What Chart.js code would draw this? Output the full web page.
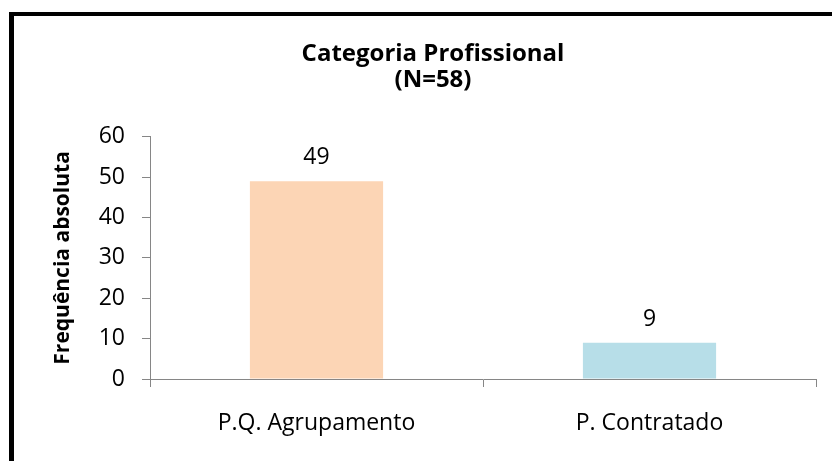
<!DOCTYPE html>
<html>
<head>
<meta charset="utf-8">
<script src="https://cdn.jsdelivr.net/npm/chart.js@4"></script>
<style>
  html, body { margin: 0; padding: 0; background: #fff; }
  #wrap { position: relative; width: 832px; height: 461px; overflow: hidden; }
  #frame { position: absolute; left: 9px; top: 12px; width: 900px; height: 600px;
           border-left: 5px solid #000; border-top: 4px solid #000; box-sizing: border-box; }
  canvas { position: absolute; left: 0; top: 0; }
</style>
</head>
<body>
<div id="wrap">
  <div id="frame"></div>
  <canvas id="c" width="832" height="461"></canvas>
</div>
<script>
const titleLines = ["Categoria Profissional", "(N=58)"];
const yAxisTitle = "Frequência absoluta";
const categories = ["P.Q. Agrupamento", "P. Contratado"];
const values = [49, 9];
const barColors = ["#FCD5B5", "#B7DEE8"];
const yTicks = [0, 10, 20, 30, 40, 50, 60];

const FONT = "'Open Sans', 'Noto Sans', sans-serif";

const valueLabels = {
  id: 'valueLabels',
  afterDatasetsDraw(chart) {
    const ctx = chart.ctx;
    const meta = chart.getDatasetMeta(0);
    ctx.save();
    ctx.font = "23px " + FONT;
    ctx.fillStyle = "#000";
    ctx.textAlign = "center";
    ctx.textBaseline = "alphabetic";
    meta.data.forEach((bar, i) => {
      ctx.fillText(String(values[i]), bar.x, bar.y - 17);
    });
    ctx.restore();
  }
};

new Chart(document.getElementById('c'), {
  type: 'bar',
  data: {
    labels: categories,
    datasets: [{
      data: values,
      backgroundColor: barColors,
      borderWidth: 0,
      barPercentage: 0.4,
      categoryPercentage: 1.0
    }]
  },
  options: {
    responsive: false,
    animation: false,
    layout: { padding: { left: 50, right: 16, top: 0, bottom: 0 } },
    plugins: {
      legend: { display: false },
      tooltip: { enabled: false },
      title: {
        display: true,
        text: titleLines,
        color: '#000',
        font: { family: FONT, size: 24, weight: 'bold', lineHeight: 1.1 },
        padding: { top: 41, bottom: 43 }
      }
    },
    scales: {
      x: {
        grid: { display: true, drawOnChartArea: false, offset: true, tickLength: 8, color: '#868686' },
        border: { color: '#868686', width: 1 },
        ticks: { color: '#000', font: { family: FONT, size: 23 }, padding: 23 },
        afterFit(s) { s.height = 82; }
      },
      y: {
        min: 0, max: 60,
        afterBuildTicks(s) { s.ticks = yTicks.map(v => ({ value: v })); },
        grid: { display: true, drawOnChartArea: false, tickLength: 8, color: '#868686' },
        border: { color: '#868686', width: 1 },
        ticks: { color: '#000', font: { family: FONT, size: 23 }, padding: 17 },
        title: { display: true, text: yAxisTitle, color: '#000', font: { family: FONT, size: 21, weight: 'bold' }, padding: 0 },
        afterFit(s) { s.width = 100; }
      }
    }
  },
  plugins: [valueLabels]
});
</script>
</body>
</html>
